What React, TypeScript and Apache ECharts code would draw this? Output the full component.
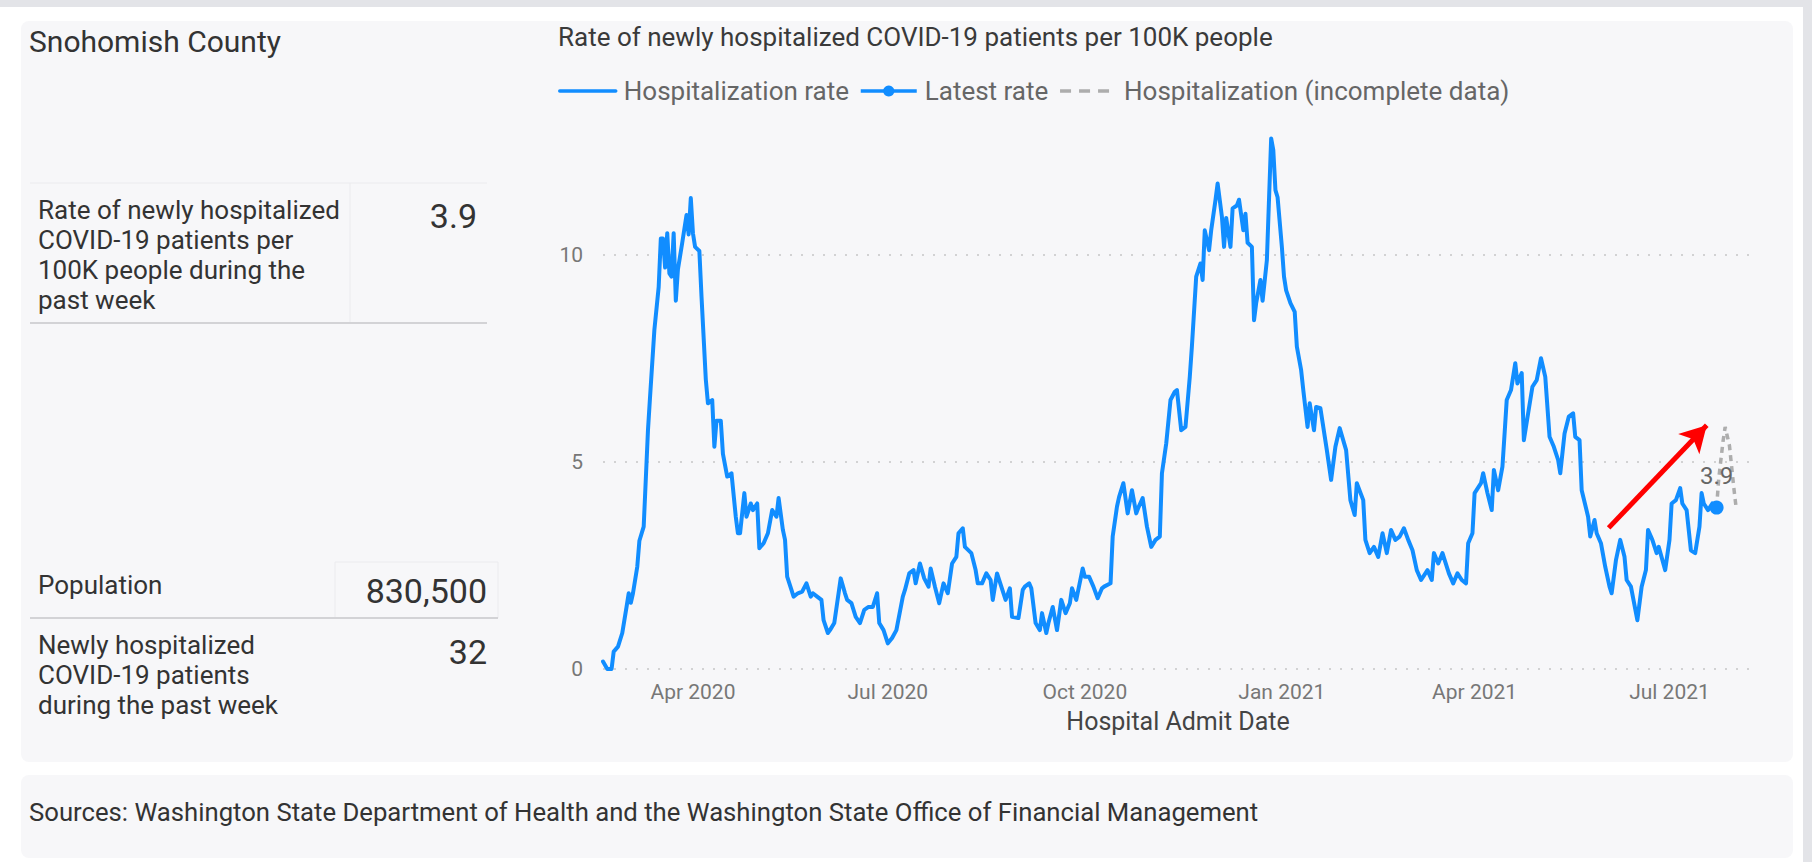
import React, { useEffect, useRef } from "react";
import * as echarts from "echarts";

const FONT = "Roboto, 'Noto Sans', sans-serif";

// x values are days since 2020-02-19 (first day of the series)
const dayOffsets = [
  0, 2, 4, 5, 7, 9, 11, 12, 13, 14, 16, 17, 19, 21, 22, 24, 26, 27, 28, 29,
  30, 31, 32, 33, 34, 35, 37, 39, 40, 41, 42, 43, 45, 46, 47, 48, 49, 51, 52, 53,
  55, 56, 58, 60, 62, 63, 64, 66, 67, 69, 70, 72, 73, 75, 77, 79, 81, 82, 84, 85,
  86, 88, 89, 91, 93, 95, 97, 98, 100, 102, 103, 105, 106, 108, 110, 111, 113, 114, 116, 118,
  120, 122, 124, 126, 128, 129, 131, 133, 135, 137, 140, 141, 143, 145, 146, 148, 150, 152, 153, 155,
  157, 159, 161, 163, 165, 166, 168, 169, 172, 174, 175, 177, 179, 181, 182, 184, 186, 188, 190, 191,
  194, 196, 197, 199, 200, 202, 204, 205, 207, 208, 210, 212, 214, 216, 218, 219, 221, 224, 225, 227,
  229, 231, 233, 234, 237, 238, 240, 241, 243, 245, 247, 249, 250, 252, 254, 256, 258, 260, 261, 263,
  265, 267, 268, 270, 272, 274, 275, 277, 279, 280, 281, 283, 284, 286, 287, 289, 290, 291, 293, 294,
  296, 297, 299, 300, 301, 303, 304, 305, 307, 308, 310, 312, 313, 314, 315, 317, 318, 319, 321, 323,
  324, 326, 327, 329, 330, 332, 333, 335, 338, 340, 342, 344, 347, 349, 351, 352, 355, 356, 358, 360,
  362, 364, 366, 368, 370, 372, 374, 376, 378, 380, 382, 385, 387, 388, 390, 392, 395, 397, 399, 401,
  403, 404, 406, 407, 410, 411, 413, 415, 416, 418, 420, 421, 422, 424, 426, 427, 429, 430, 432, 434,
  436, 438, 440, 442, 444, 446, 447, 449, 451, 453, 454, 456, 457, 460, 461, 463, 464, 466, 468, 470,
  471, 473, 475, 477, 478, 480, 483, 485, 487, 488, 490, 492, 493, 496, 498, 499, 501, 503, 504, 506,
  508, 510, 512, 513, 514, 516, 518, 520,
];

const rates = [
  0.18, 0.0, 0.0, 0.42, 0.54, 0.87, 1.5, 1.83, 1.6, 1.83, 2.47, 3.1, 3.44, 5.77, 6.6, 8.2, 9.23, 10.4, 10.4, 9.7,
  10.53, 9.56, 9.48, 10.53, 8.9, 9.66, 10.3, 10.97, 10.5, 11.38, 10.53, 10.2, 10.1, 9.0, 8.0, 7.0, 6.42, 6.5, 5.37, 6.0,
  6.0, 5.2, 4.65, 4.73, 3.68, 3.28, 3.28, 4.25, 3.68, 4.0, 3.84, 4.0, 2.92, 3.04, 3.28, 3.84, 3.68, 4.13, 3.36, 3.12,
  2.23, 1.91, 1.75, 1.83, 1.87, 2.07, 1.75, 1.83, 1.75, 1.67, 1.18, 0.87, 0.94, 1.11, 1.83, 2.19, 1.83, 1.67, 1.59, 1.26,
  1.11, 1.43, 1.5, 1.5, 1.83, 1.11, 0.94, 0.62, 0.75, 0.94, 1.75, 1.91, 2.31, 2.39, 2.07, 2.55, 2.19, 1.99, 2.43, 1.99,
  1.59, 2.07, 1.83, 2.55, 2.71, 3.28, 3.4, 2.95, 2.8, 2.39, 2.07, 2.07, 2.31, 2.15, 1.67, 2.31, 1.99, 1.67, 1.95, 1.26,
  1.23, 1.91, 1.99, 2.07, 1.95, 1.11, 0.94, 1.35, 0.87, 1.11, 1.5, 0.94, 1.67, 1.35, 1.59, 1.95, 1.67, 2.43, 2.23, 2.23,
  1.99, 1.71, 1.95, 1.99, 2.07, 3.2, 3.92, 4.16, 4.49, 3.76, 4.32, 3.76, 3.9, 4.13, 3.44, 2.95, 3.12, 3.2, 4.73, 5.45,
  6.5, 6.7, 6.74, 5.77, 5.85, 7.06, 7.8, 9.48, 9.8, 9.4, 10.6, 10.12, 10.6, 11.33, 11.73, 10.93, 10.2, 10.9, 10.2, 11.13,
  11.2, 11.34, 10.6, 11.0, 10.3, 10.2, 8.43, 8.84, 9.4, 8.9, 9.88, 12.82, 12.54, 11.57, 11.4, 10.2, 9.48, 9.15, 8.84, 8.63,
  7.79, 7.22, 6.74, 5.85, 6.42, 5.77, 6.33, 6.3, 5.29, 4.57, 5.37, 5.82, 5.29, 4.08, 3.72, 4.49, 4.08, 3.12, 2.8, 2.95,
  2.71, 3.28, 2.8, 3.36, 3.12, 3.2, 3.4, 3.12, 2.87, 2.39, 2.15, 2.39, 2.15, 2.8, 2.55, 2.8, 2.31, 2.07, 2.31, 2.15,
  2.07, 3.04, 3.28, 4.25, 4.49, 4.73, 4.25, 3.84, 4.81, 4.32, 4.89, 5.69, 6.5, 6.74, 7.39, 6.9, 7.15, 5.53, 6.18, 6.82,
  6.98, 7.51, 7.06, 5.61, 5.37, 5.05, 4.73, 5.69, 6.1, 6.18, 5.61, 5.53, 4.32, 3.68, 3.2, 3.6, 3.28, 3.04, 2.47, 1.99,
  1.83, 2.63, 3.12, 2.71, 2.15, 1.99, 1.18, 1.99, 2.39, 3.36, 3.12, 2.8, 2.95, 2.39, 3.12, 4.0, 4.08, 4.37, 4.0, 3.84,
  2.87, 2.8, 3.44, 4.25, 4.0, 3.84, 4.0, 3.9,
];

const incompleteDays = [520, 521, 523, 524, 526, 527, 528, 529];
const incompleteRates = [3.9, 4.6, 5.5, 5.85, 5.4, 4.9, 4.4, 3.95];

const latestDay = 520;
const latestRate = 3.9;

const axisMaxDay = 537;
const tickDays = [42, 133, 225, 317, 407, 498];
const tickLabels = ["Apr 2020", "Jul 2020", "Oct 2020", "Jan 2021", "Apr 2021", "Jul 2021"];

const seriesNames = ["Hospitalization rate", "Latest rate", "Hospitalization (incomplete data)"];

const countyName = "Snohomish County";
const rateLabel = "Rate of newly hospitalized\nCOVID-19 patients per\n100K people during the\npast week";
const rateValue = "3.9";
const populationLabel = "Population";
const populationValue = "830,500";
const newlyLabel = "Newly hospitalized\nCOVID-19 patients\nduring the past week";
const newlyValue = "32";
const chartTitle = "Rate of newly hospitalized COVID-19 patients per 100K people";
const sourceText =
  "Sources: Washington State Department of Health and the Washington State Office of Financial Management";

// annotation arrow (data coordinates: day, rate)
const arrowFrom = [469.6, 3.41];
const arrowTo = [515.4, 5.89];

export default function App() {
  const ref = useRef<HTMLDivElement>(null);

  useEffect(() => {
    if (!ref.current) return;
    const chart = echarts.init(ref.current, undefined, { renderer: "svg" });

    const hospData = dayOffsets.map((d, i) => [d, rates[i]]);
    const incData = incompleteDays.map((d, i) => [d, incompleteRates[i]]);
    const labelFor = (v: number) => {
      const idx = tickDays.indexOf(Math.round(v));
      return idx >= 0 ? tickLabels[idx] : "";
    };

    const panel = "#f7f7f9";
    const faint = "#ebebee";
    const rule = "#d3d3d6";
    const blue = "#118DFF";
    const gray = "#adadad";

    const option: any = {
      animation: false,
      backgroundColor: "#ffffff",
      textStyle: { fontFamily: FONT },
      grid: { left: 603, right: 59, top: 131, bottom: 193, containLabel: false },
      legend: {
        left: 558,
        top: 78,
        padding: 0,
        itemWidth: 56,
        itemHeight: 14,
        itemGap: 10,
        data: [
          { name: seriesNames[0], itemStyle: { opacity: 0 }, lineStyle: { width: 3.5 } },
          { name: seriesNames[1], lineStyle: { width: 3.5 } },
          { name: seriesNames[2], itemStyle: { opacity: 0 }, lineStyle: { width: 3.5, type: [11, 8] } },
        ],
        textStyle: { color: "#666666", fontSize: 26, fontFamily: FONT, padding: [0, 0, 0, 3] },
      },
      xAxis: {
        type: "value",
        min: 0,
        max: axisMaxDay,
        axisLine: { show: false },
        axisTick: { show: false },
        splitLine: { show: false },
        axisLabel: {
          customValues: tickDays,
          formatter: (v: number) => labelFor(v),
          color: "#777777",
          fontSize: 21,
          margin: 12,
          fontFamily: FONT,
        },
        name: "Hospital Admit Date",
        nameLocation: "middle",
        nameGap: 40,
        nameTextStyle: { color: "#444444", fontSize: 25, fontFamily: FONT },
      },
      yAxis: {
        type: "value",
        min: 0,
        max: 13,
        interval: 5,
        axisLine: { show: false },
        axisTick: { show: false },
        axisLabel: { color: "#777777", fontSize: 21, margin: 20, showMaxLabel: false, fontFamily: FONT },
        splitLine: { show: true, showMaxLine: false, lineStyle: { color: "#c6c6c6", width: 1.5, type: [2, 9] } },
      },
      series: [
        {
          name: seriesNames[0],
          type: "line",
          data: hospData,
          symbol: "none",
          z: 3,
          lineStyle: { color: blue, width: 4, join: "round", cap: "round" },
          itemStyle: { color: blue },
          markLine: {
            silent: true,
            symbol: ["none", "arrow"],
            symbolSize: [22, 26],
            label: { show: false },
            lineStyle: { color: "#ff0000", width: 5, type: "solid" },
            emphasis: { disabled: true },
            data: [[{ coord: arrowFrom }, { coord: arrowTo }]],
          },
        },
        {
          name: seriesNames[1],
          type: "line",
          data: [[latestDay, latestRate]],
          symbol: "circle",
          symbolSize: 14,
          z: 4,
          itemStyle: { color: blue },
          lineStyle: { color: blue, width: 3.5 },
          label: {
            show: true,
            position: "top",
            distance: 13,
            formatter: () => String(latestRate),
            color: "#666666",
            fontSize: 24,
            fontFamily: FONT,
          },
        },
        {
          name: seriesNames[2],
          type: "line",
          data: incData,
          symbol: "none",
          z: 3,
          itemStyle: { color: gray },
          lineStyle: { color: gray, width: 3.5, type: [6, 5] },
        },
      ],
      graphic: [
        { type: "rect", z: -10, shape: { x: 0, y: 0, width: 1812, height: 7 }, style: { fill: "#e3e4e8" } },
        { type: "rect", z: -10, shape: { x: 1803, y: 0, width: 9, height: 862 }, style: { fill: "#e3e4e8" } },
        { type: "rect", z: -9, shape: { x: 6, y: 7, width: 1797, height: 855, r: 10 }, style: { fill: "#ffffff" } },
        { type: "rect", z: -8, shape: { x: 21, y: 21, width: 1772, height: 741, r: 8 }, style: { fill: panel } },
        { type: "rect", z: -8, shape: { x: 21, y: 775, width: 1772, height: 83, r: 8 }, style: { fill: panel } },
        // title texts
        {
          type: "text", x: 29, y: 41,
          style: { text: countyName, fontSize: 30, fill: "#333333", fontFamily: FONT, verticalAlign: "middle" },
        },
        {
          type: "text", x: 558, y: 37,
          style: { text: chartTitle, fontSize: 26, fill: "#3a3a3a", fontFamily: FONT, verticalAlign: "middle" },
        },
        // table 1
        { type: "line", shape: { x1: 30, y1: 183, x2: 487, y2: 183 }, style: { stroke: faint, lineWidth: 1 } },
        { type: "line", shape: { x1: 350, y1: 183, x2: 350, y2: 322 }, style: { stroke: faint, lineWidth: 1 } },
        { type: "line", shape: { x1: 30, y1: 323, x2: 487, y2: 323 }, style: { stroke: rule, lineWidth: 2 } },
        {
          type: "text", x: 38, y: 195,
          style: { text: rateLabel, fontSize: 26, lineHeight: 30, fill: "#333333", fontFamily: FONT, verticalAlign: "top" },
        },
        {
          type: "text", x: 477, y: 216,
          style: { text: rateValue, fontSize: 34, fill: "#333333", fontFamily: FONT, align: "right", verticalAlign: "middle" },
        },
        // table 2
        { type: "rect", shape: { x: 335, y: 562, width: 163, height: 56 }, style: { fill: "none", stroke: faint, lineWidth: 1 } },
        { type: "line", shape: { x1: 30, y1: 618, x2: 498, y2: 618 }, style: { stroke: rule, lineWidth: 2 } },
        {
          type: "text", x: 38, y: 585,
          style: { text: populationLabel, fontSize: 26, fill: "#333333", fontFamily: FONT, verticalAlign: "middle" },
        },
        {
          type: "text", x: 487, y: 591,
          style: { text: populationValue, fontSize: 34, fill: "#333333", fontFamily: FONT, align: "right", verticalAlign: "middle" },
        },
        {
          type: "text", x: 38, y: 630,
          style: { text: newlyLabel, fontSize: 26, lineHeight: 30, fill: "#333333", fontFamily: FONT, verticalAlign: "top" },
        },
        {
          type: "text", x: 487, y: 652,
          style: { text: newlyValue, fontSize: 34, fill: "#333333", fontFamily: FONT, align: "right", verticalAlign: "middle" },
        },
        // footer
        {
          type: "text", x: 29, y: 812,
          style: { text: sourceText, fontSize: 25.7, fill: "#333333", fontFamily: FONT, verticalAlign: "middle" },
        },
      ],
    };

    chart.setOption(option);
    return () => chart.dispose();
  }, []);

  return (
    <div
      ref={ref}
      style={{ position: "fixed", left: 0, top: 0, width: 1812, height: 862 }}
    />
  );
}
